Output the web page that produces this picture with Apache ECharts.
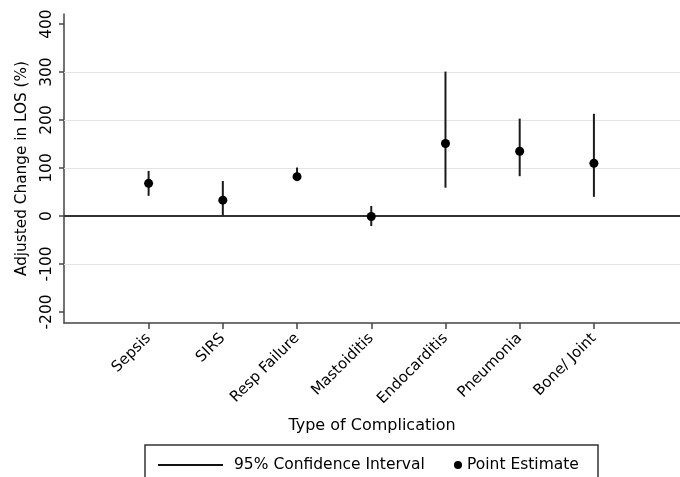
<!DOCTYPE html>
<html>
<head>
<meta charset="utf-8">
<script src="https://cdn.jsdelivr.net/npm/echarts@6/dist/echarts.min.js"></script>
<style>html,body{margin:0;padding:0;background:#fff}#c{width:680px;height:477px}</style>
</head>
<body>
<div id="c"></div>
<script>
const categories = ['Sepsis', 'SIRS', 'Resp Failure', 'Mastoiditis', 'Endocarditis', 'Pneumonia', 'Bone/ Joint'];
const estimates = [68, 33, 82, -1, 151, 135, 110];
const lowerCI = [42, 1, 75, -21, 59, 83, 40];
const upperCI = [94, 73, 101, 21, 301, 203, 213];
const yTicks = [-200, -100, 0, 100, 200, 300, 400];
const gridValues = [-100, 100, 200, 300];

const positions = categories.map((c, i) => i + 1);
const ciData = positions.map((p, i) => [p, lowerCI[i], upperCI[i]]);
const ptData = positions.map((p, i) => [p, estimates[i]]);
const FONT = 'DejaVu Sans';

const chart = echarts.init(document.getElementById('c'), null, {renderer: 'canvas'});
chart.setOption({
  animation: false,
  backgroundColor: '#fff',
  textStyle: {fontFamily: FONT},
  grid: {left: 64, right: 0, top: 14, bottom: 154, containLabel: false},
  xAxis: {
    type: 'value', min: -0.14, max: 8.16,
    name: 'Type of Complication', nameLocation: 'middle', nameGap: 95, nameMoveOverlap: false,
    nameTextStyle: {fontFamily: FONT, fontSize: 16, color: '#000'},
    axisLine: {show: true, onZero: false, lineStyle: {color: '#444', width: 1.5}},
    axisTick: {show: true, length: 6, customValues: positions, lineStyle: {color: '#444', width: 1.5}},
    axisLabel: {customValues: positions, rotate: 45, margin: 13, fontSize: 15, color: '#000', fontFamily: FONT,
      formatter: v => categories[Math.round(v) - 1] || ''},
    splitLine: {show: false}
  },
  yAxis: {
    type: 'value', min: -223, max: 421,
    name: 'Adjusted Change in LOS (%)', nameLocation: 'middle', nameGap: 34, nameMoveOverlap: false,
    nameTextStyle: {fontFamily: FONT, fontSize: 15.3, color: '#000'},
    axisLine: {show: true, onZero: false, lineStyle: {color: '#444', width: 1.5}},
    axisTick: {show: true, length: 5, customValues: yTicks, lineStyle: {color: '#444', width: 1.5}},
    axisLabel: {customValues: yTicks, rotate: 90, margin: 9, fontSize: 15.5, color: '#000', fontFamily: FONT},
    splitLine: {show: false}
  },
  legend: [
    {data: [{name: '95% Confidence Interval', icon: 'rect'}], left: 153, top: 452, itemWidth: 65, itemHeight: 2,
     textStyle: {fontSize: 15.5, color: '#000', fontFamily: FONT, padding: [0, 0, 0, 6]}, selectedMode: false},
    {data: [{name: 'Point Estimate', icon: 'circle'}], left: 449, top: 452, itemWidth: 8, itemHeight: 8,
     textStyle: {fontSize: 15.5, color: '#000', fontFamily: FONT}, selectedMode: false}
  ],
  graphic: [{type: 'rect', shape: {x: 145, y: 445, width: 453, height: 45}, style: {fill: 'none', stroke: '#333', lineWidth: 1.5}, silent: true}],
  series: [
    {
      name: '95% Confidence Interval', type: 'custom', color: '#111', z: 2,
      data: ciData, encode: {x: 0, y: [1, 2]},
      renderItem: (params, api) => {
        const x = api.value(0);
        const p1 = api.coord([x, api.value(1)]);
        const p2 = api.coord([x, api.value(2)]);
        return {type: 'line', shape: {x1: p1[0], y1: p1[1], x2: p2[0], y2: p2[1]}, style: {stroke: '#1a1a1a', lineWidth: 2}};
      },
      markLine: {
        silent: true, symbol: 'none', z: 1, animation: false,
        label: {show: false},
        data: gridValues.map(v => ({yAxis: v, lineStyle: {color: '#e4e4e4', width: 1, type: 'solid'}}))
          .concat([{yAxis: 0, lineStyle: {color: '#333', width: 2, type: 'solid'}}])
      }
    },
    {
      name: 'Point Estimate', type: 'scatter', itemStyle: {color: '#000', opacity: 1}, z: 3,
      symbol: 'circle', symbolSize: 9, data: ptData
    }
  ]
});
</script>
</body>
</html>
